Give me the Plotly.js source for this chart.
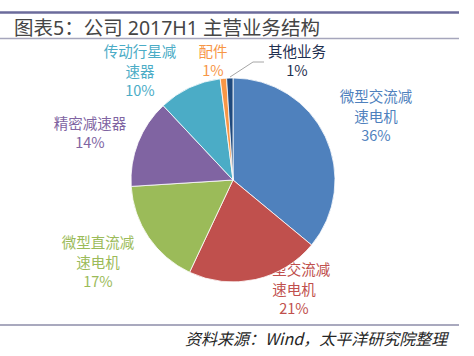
<!DOCTYPE html>
<html>
<head>
<meta charset="utf-8">
<script src="https://cdn.plot.ly/plotly-3.0.1.min.js"></script>
<style>
html,body{margin:0;padding:0;background:#fff;}
#chart{width:474px;height:356px;}
</style>
</head>
<body>
<div id="chart"></div>
<script>
// ---- data ----
var categories = ['微型交流减速电机','小型交流减速电机','微型直流减速电机','精密减速器','传动行星减速器','配件','其他业务'];
var shares = [36, 21, 17, 14, 10, 1, 1];
var sliceColors = ['#4F81BD','#C0504D','#9BBB59','#8064A2','#4BACC6','#F79646','#1F497D'];
var labelColors = ['#4F81BD','#C0504D','#9BBB59','#8064A2','#4BACC6','#F79646','#1F3050'];
var titleText = '图表5：公司 2017H1 主营业务结构';
var sourceText = '资料来源：Wind，太平洋研究院整理';

// label block centres (pixel space of the page) and line gap
var labelX = [376, 294, 98, 90, 140, 213, 297];
var labelY = [118, 291, 264, 135, 73, 63, 63];
var lineGap = 19.5;

function chunks(s, n){
  var out = [];
  for (var i = 0; i < s.length; i += n) out.push(s.slice(i, i + n));
  return out;
}
var tx = [], ty = [], tt = [], tc = [];
categories.forEach(function(c, i){
  var lines = chunks(c, 5).concat([shares[i] + '%']);
  var n = lines.length;
  lines.forEach(function(line, k){
    tx.push(labelX[i]);
    ty.push(labelY[i] + (k - (n - 1) / 2) * lineGap);
    tt.push(line);
    tc.push(labelColors[i]);
  });
});

var CJK = '"Noto Sans CJK SC", sans-serif';
var MIX = '"Noto Sans", "Noto Sans CJK SC", sans-serif';

var traces = [
  {
    type: 'scatter', mode: 'text', x: tx, y: ty, text: tt,
    textposition: 'middle center', hoverinfo: 'skip',
    textfont: {family: CJK, size: 14.5, color: tc},
    xaxis: 'x', yaxis: 'y', showlegend: false
  },
  {
    type: 'pie', labels: categories, values: shares, sort: false,
    direction: 'clockwise', rotation: 0, textinfo: 'none', hoverinfo: 'label+percent',
    marker: {colors: sliceColors, line: {color: '#ffffff', width: 0.8}},
    domain: {x: [131/474, 335/474], y: [1 - 282/356, 1 - 78/356]},
    showlegend: false
  }
];

var layout = {
  width: 474, height: 356,
  margin: {l: 0, r: 0, t: 0, b: 0},
  paper_bgcolor: '#ffffff', plot_bgcolor: 'rgba(0,0,0,0)',
  showlegend: false,
  xaxis: {range: [0, 474], domain: [0, 1], visible: false, fixedrange: true},
  yaxis: {range: [356, 0], domain: [0, 1], visible: false, fixedrange: true},
  shapes: [
    {type: 'line', xref: 'x', yref: 'y', x0: 0, x1: 459, y0: 12.5, y1: 12.5, line: {color: '#6B6B9B', width: 2.5}},
    {type: 'line', xref: 'x', yref: 'y', x0: 0, x1: 459, y0: 38.5, y1: 38.5, line: {color: '#A6A6BC', width: 1.5}},
    {type: 'line', xref: 'x', yref: 'y', x0: 0, x1: 459, y0: 325, y1: 325, line: {color: '#8C8CA8', width: 1.5}},
    {type: 'path', xref: 'x', yref: 'y', path: 'M 264 62 L 253 62 L 230 77', line: {color: '#A6A6A6', width: 1}}
  ],
  annotations: [
    {xref: 'paper', yref: 'paper', x: 12/474, y: 1 - 27/356, xanchor: 'left', yanchor: 'middle',
     showarrow: false, text: titleText, font: {family: MIX, size: 19.5, color: '#454545'}},
    {xref: 'paper', yref: 'paper', x: 451/474, y: 1 - 338/356, xanchor: 'right', yanchor: 'middle',
     showarrow: false, text: '<i>' + sourceText + '</i>', font: {family: CJK, size: 16, color: '#262626'}}
  ]
};

Plotly.newPlot('chart', traces, layout, {displayModeBar: false, staticPlot: true});
</script>
</body>
</html>
